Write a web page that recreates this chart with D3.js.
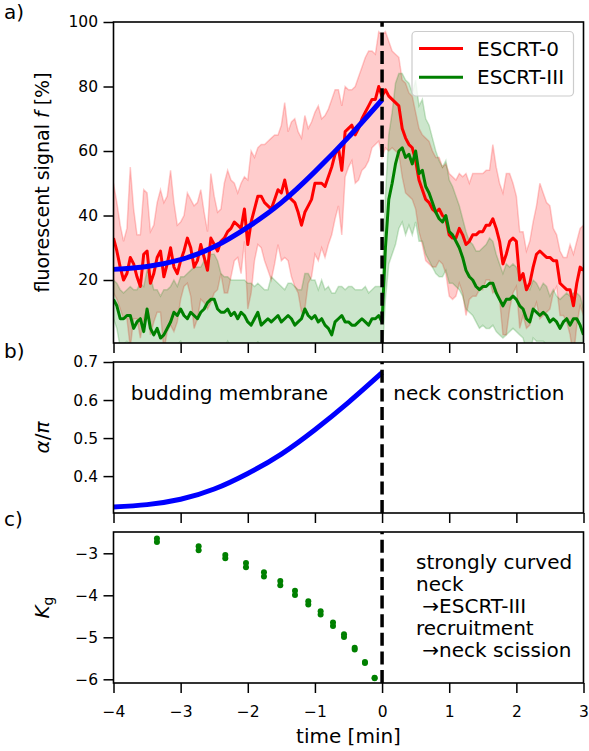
<!DOCTYPE html>
<html>
<head>
<meta charset="utf-8">
<script src="https://cdn.jsdelivr.net/npm/d3@7"></script>
<style>
  body { margin: 0; background: #fff; }
  svg { display: block; }
  text { font-family: "DejaVu Sans", sans-serif; fill: #000; }
</style>
</head>
<body>
<svg id="fig" width="589" height="751"></svg>
<script>
// ---- data -------------------------------------------------------------
// fluorescence traces are sampled every 0.05 min starting at -4 min
const tStart = -4, tStep = 0.05;

// ESCRT-0 mean signal [%] and its standard deviation
const escrt0Mean = [
  33,29,24,20,22,27,25,21,18,28,29,19,22,27,29,21,25,30,24,22,26,
  29,33,30,24,26,31,27,23,33,31,29,32,33,35,36,38,37,36,42,31,
  38,42,46,46,44,43,42,45,48,47,51,46,45,44,41,37,41,43,45,50,
  50,50,49,52,55,59,61,54,66,67,68,65,67,70,72,74,76,76,80,77,
  79,77,76,75,74,67,64,62,61,57,51,48,45,44,42,41,42,40,39,34,
  33,33,36,34,31,32,34,34,35,35,37,37,39,36,32,25,28,32,33,32,
  20,22,17,19,24,28,29,28,27,27,26,26,19,18,17,17,12,19,24,23
];
const escrt0Sd = [
  17,15,13,12,14,28,17,13,16,20,18,16,15,17,19,23,21,24,20,15,12,
  11,14,15,19,18,17,14,12,20,15,12,10,17,19,15,12,10,14,10,20,
  22,16,15,16,18,20,22,20,17,21,24,20,24,26,25,27,30,24,24,22,
  24,20,22,21,21,20,18,20,14,12,11,15,16,16,17,17,15,14,17,19,
  18,17,15,15,15,15,17,16,16,15,16,17,19,19,18,17,16,15,17,19,
  19,18,17,18,22,18,19,19,18,18,17,17,23,19,18,22,25,21,17,14,
  15,13,12,13,14,15,21,19,17,16,10,8,10,9,10,14,16,13,12,14
];

// ESCRT-III mean signal [%] and its standard deviation
const escrt3Mean = [
  14,12,8,8,9,9,5,7,8,4,11,5,3,5,2,3,5,7,10,9,11,
  9,8,10,9,8,10,11,13,14,14,11,10,10,11,9,10,8,10,9,7,
  6,8,10,6,7,8,7,8,9,7,8,9,8,6,7,8,11,9,8,9,
  7,8,6,5,3,7,8,9,7,7,6,6,7,8,7,6,8,8,9,7,
  30,45,50,56,60,61,58,59,56,60,53,54,49,47,44,41,39,38,40,35,
  34,32,30,27,23,21,20,18,17,18,18,19,19,16,14,12,14,14,15,14,
  12,11,8,7,11,10,9,10,9,7,8,7,5,7,8,6,8,8,6,3
];
const escrt3Sd = [
  6,7,9,8,8,9,12,10,11,14,12,16,14,12,13,14,12,11,10,9,10,
  12,14,13,15,16,14,15,13,14,14,15,12,11,10,11,10,12,10,11,12,
  13,10,9,12,10,9,14,12,10,11,9,10,11,12,10,9,11,13,12,11,
  10,12,11,13,13,9,10,9,10,11,12,11,10,9,11,10,9,10,9,11,
  16,20,22,25,24,23,24,22,22,22,21,22,21,21,20,19,18,17,17,16,
  15,14,13,12,12,11,11,11,12,12,13,14,13,12,11,10,11,10,10,10,
  9,9,10,10,9,9,8,9,9,8,9,8,9,8,8,9,8,8,9,8
];

// model fit of the budding phase
const fitTime   = [-4, -3.5, -3, -2.5, -2, -1.5, -1, -0.5, 0];
const fitSignal = [23.3, 24.2, 26.3, 30.3, 36.4, 44.0, 53.6, 64.3, 75.9];
const fitAngle  = [0.319, 0.325, 0.339, 0.366, 0.407, 0.458, 0.522, 0.594, 0.672];

// Gaussian curvature of the neck (two nearly coincident estimates)
const kgTime  = [-3.353,-2.732,-2.335,-2.027,-1.759,-1.516,-1.297,-1.099,-0.915,-0.731,-0.567,-0.408,-0.255,-0.111];
const kgUpper = [-2.65,-2.83,-3.04,-3.23,-3.45,-3.66,-3.89,-4.14,-4.38,-4.65,-4.925,-5.25,-5.59,-5.965];
const kgLower = [-2.73,-2.93,-3.12,-3.33,-3.55,-3.76,-3.99,-4.22,-4.46,-4.73,-4.995,-5.29,-5.61,-5.975];

// tick values
const timeTicks   = [-4, -3, -2, -1, 0, 1, 2, 3];
const signalTicks = [20, 40, 60, 80, 100];
const angleTicks  = [0.4, 0.5, 0.6, 0.7];
const kgTicks     = [-6, -5, -4, -3];

// ---- layout -----------------------------------------------------------
const svg = d3.select('#fig');
const X0 = 113.5, X1 = 583.5;
const x = d3.scaleLinear().domain([-4, 3]).range([X0, X1]);

const yA = d3.scaleLinear().domain([0.47, 100]).range([343, 22]);
const yB = d3.scaleLinear().domain([0.303, 0.7]).range([513, 362]);
const yC = d3.scaleLinear().domain([-6.088, -2.493]).range([683, 532]);

const TICK = 10, TICK_W = 1.5, FRAME_W = 1.6;
const TICK_FONT = '15.5px', LABEL_FONT = '20px';
const RED = '#ff0000', GREEN = '#008000', BLUE = '#0000ff';

const times = escrt0Mean.map((_, i) => tStart + i * tStep);
const rows = times.map((t, i) => ({
  t, m0: escrt0Mean[i], s0: escrt0Sd[i], m3: escrt3Mean[i], s3: escrt3Sd[i]
}));

function clipFor(id, y) {
  const [b, t] = y.range();
  svg.append('clipPath').attr('id', id)
    .append('rect').attr('x', X0).attr('y', t).attr('width', X1 - X0).attr('height', b - t);
  return `url(#${id})`;
}

function styleAxis(g) {
  g.select('.domain').remove();
  g.selectAll('.tick line').attr('stroke', '#000').attr('stroke-width', TICK_W);
  g.selectAll('.tick text').attr('font-size', TICK_FONT).attr('fill', '#000')
    .attr('font-family', '"DejaVu Sans", sans-serif');
}

function axesFor(y, yTicks, yFmt, labelX) {
  const [b, t] = y.range();
  svg.append('g').attr('transform', `translate(${X0},0)`)
    .call(d3.axisLeft(y).tickValues(yTicks).tickFormat(yFmt).tickSize(TICK).tickPadding(5.5))
    .call(styleAxis);
  svg.append('g').attr('transform', `translate(0,${b})`)
    .call(d3.axisBottom(x).tickValues(timeTicks)
      .tickFormat(labelX ? d3.format('d') : () => '').tickSize(TICK).tickPadding(12.5))
    .call(styleAxis);
  svg.append('rect').attr('x', X0).attr('y', t).attr('width', X1 - X0).attr('height', b - t)
    .attr('fill', 'none').attr('stroke', '#000').attr('stroke-width', FRAME_W);
}

function splitLine(y) {
  const [b, t] = y.range();
  svg.append('line')
    .attr('x1', x(0)).attr('x2', x(0)).attr('y1', b).attr('y2', t)
    .attr('stroke', '#000').attr('stroke-width', 3.5).attr('stroke-dasharray', '13 5.6');
}

// ---- panel a: fluorescence ---------------------------------------------
{
  const clip = clipFor('clipA', yA);
  const g = svg.append('g').attr('clip-path', clip);
  const band = (mk, sk, color) => g.append('path').datum(rows)
    .attr('d', d3.area().x(d => x(d.t)).y0(d => yA(d[mk] - d[sk])).y1(d => yA(d[mk] + d[sk])))
    .attr('fill', color).attr('fill-opacity', 0.2)
    .attr('stroke', color).attr('stroke-opacity', 0.2).attr('stroke-width', 1.5);
  band('m0', 's0', RED);
  band('m3', 's3', GREEN);
  const trace = (mk, color) => g.append('path').datum(rows)
    .attr('d', d3.line().x(d => x(d.t)).y(d => yA(d[mk])))
    .attr('fill', 'none').attr('stroke', color).attr('stroke-width', 3)
    .attr('stroke-linejoin', 'round').attr('stroke-linecap', 'butt');
  trace('m0', RED);
  trace('m3', GREEN);
  g.append('path').datum(fitTime.map((t, i) => [t, fitSignal[i]]))
    .attr('d', d3.line().x(d => x(d[0])).y(d => yA(d[1])).curve(d3.curveNatural))
    .attr('fill', 'none').attr('stroke', BLUE).attr('stroke-width', 5);
  splitLine(yA);
  axesFor(yA, signalTicks, d3.format('d'), false);

  // legend
  const lg = svg.append('g');
  lg.append('rect').attr('x', 412).attr('y', 31.5).attr('width', 161.5).attr('height', 64.5)
    .attr('rx', 4).attr('fill', '#fff').attr('fill-opacity', 0.8)
    .attr('stroke', '#cccccc').attr('stroke-width', 1.2);
  [['ESCRT-0', RED, 48.5, 55.5], ['ESCRT-III', GREEN, 77.3, 84.3]].forEach(([name, c, ly, ty]) => {
    lg.append('line').attr('x1', 419).attr('x2', 463).attr('y1', ly).attr('y2', ly)
      .attr('stroke', c).attr('stroke-width', 3);
    lg.append('text').attr('x', 477).attr('y', ty).attr('font-size', LABEL_FONT).text(name);
  });

  const yl = svg.append('text').attr('transform', 'translate(49,182.5) rotate(-90)')
    .attr('text-anchor', 'middle').attr('font-size', '19px');
  yl.append('tspan').text('fluorescent signal ');
  yl.append('tspan').attr('font-style', 'italic').text('f');
  yl.append('tspan').text(' [%]');
}

// ---- panel b: opening angle --------------------------------------------
{
  const clip = clipFor('clipB', yB);
  const g = svg.append('g').attr('clip-path', clip);
  g.append('path').datum(fitTime.map((t, i) => [t, fitAngle[i]]))
    .attr('d', d3.line().x(d => x(d[0])).y(d => yB(d[1])).curve(d3.curveNatural))
    .attr('fill', 'none').attr('stroke', BLUE).attr('stroke-width', 5);
  splitLine(yB);
  axesFor(yB, angleTicks, d3.format('.1f'), false);
  svg.append('text').attr('x', 130.7).attr('y', 400).attr('font-size', LABEL_FONT).text('budding membrane');
  svg.append('text').attr('x', 393.3).attr('y', 400).attr('font-size', LABEL_FONT).text('neck constriction');
  const yl = svg.append('text').attr('transform', 'translate(49,437.5) rotate(-90)')
    .attr('text-anchor', 'middle').attr('font-size', LABEL_FONT);
  yl.append('tspan').attr('font-style', 'italic').text('α');
  yl.append('tspan').text('/');
  yl.append('tspan').attr('font-style', 'italic').text('π');
}

// ---- panel c: Gaussian curvature ---------------------------------------
{
  const clip = clipFor('clipC', yC);
  const g = svg.append('g').attr('clip-path', clip);
  const pts = kgTime.flatMap((t, i) => [[t, kgUpper[i]], [t, kgLower[i]]]);
  g.selectAll('circle').data(pts).join('circle')
    .attr('cx', d => x(d[0])).attr('cy', d => yC(d[1])).attr('r', 3.0).attr('fill', GREEN);
  splitLine(yC);
  axesFor(yC, kgTicks, d3.format('d'), true);
  const lines = ['strongly curved', 'neck', '\u00a0\u2192ESCRT-III', 'recruitment', '\u00a0\u2192neck scission'];
  lines.forEach((s, i) => svg.append('text').attr('x', 416).attr('y', 569.3 + i * 21.8)
    .attr('font-size', LABEL_FONT).text(s));
  const yl = svg.append('text').attr('transform', 'translate(49,607.5) rotate(-90)')
    .attr('text-anchor', 'middle').attr('font-size', LABEL_FONT);
  yl.append('tspan').attr('font-style', 'italic').text('K');
  yl.append('tspan').attr('font-size', '14px').attr('dy', '4').text('g');
  svg.append('text').attr('x', 348.5).attr('y', 743).attr('text-anchor', 'middle')
    .attr('font-size', LABEL_FONT).text('time [min]');
}

// panel letters
[['a)', 19], ['b)', 358], ['c)', 526]].forEach(([s, y]) =>
  svg.append('text').attr('x', 4).attr('y', y).attr('font-size', LABEL_FONT).text(s));
</script>
</body>
</html>
